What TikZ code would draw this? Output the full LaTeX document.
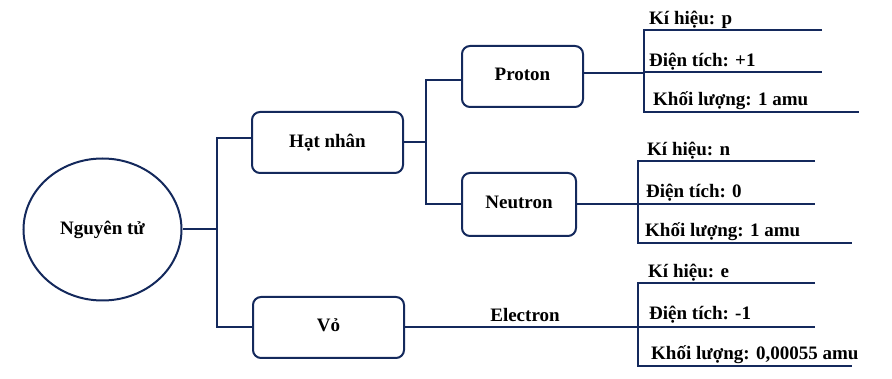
\documentclass[tikz,border=0pt]{standalone}
\usepackage{fontspec}
\setmainfont{Liberation Serif}[BoldFont={Liberation Serif Bold}]
\usetikzlibrary{shapes.geometric}
\definecolor{navy}{HTML}{14295C}
\begin{document}
\begin{tikzpicture}[x=1pt,y=-1pt,
  every node/.style={font=\bfseries\fontsize{19}{22}\selectfont, text=black},
  box/.style={draw=navy, line width=2pt, rounded corners=8pt, inner sep=0pt},
  link/.style={draw=navy, line width=2pt},
  lbl/.style={anchor=west, inner sep=0pt}]
\useasboundingbox (0,0) rectangle (892,379);
% main nodes
\node[ellipse, draw=navy, line width=2pt, minimum width=158pt, minimum height=142pt, inner sep=0pt] (root) at (102.5,229.5) {\raisebox{4pt}{Nguyên tử}};
\node[box, minimum width=151pt, minimum height=61pt] (hn) at (327.5,142.5) {\raisebox{4pt}{Hạt nhân}};
\node[box, minimum width=151pt, minimum height=61pt] (vo) at (328.5,327.5) {\raisebox{4pt}{Vỏ}};
\node[box, minimum width=121pt, minimum height=61pt] (pr) at (522.5,76.5) {\raisebox{4pt}{Proton}};
\node[box, minimum width=114pt, minimum height=63pt] (ne) at (519,204.5) {\raisebox{4pt}{Neutron}};
\node (el) at (525,315) {Electron};
% junctions
\coordinate (j1) at (217,229.5);
\coordinate (j2) at (426,142.5);
\coordinate (jp) at (644,73);
\coordinate (jn) at (638,204.5);
\coordinate (je) at (638,327.5);
% level 1
\draw[link] (root.east) -- (j1);
\draw[link] (j1) |- ([yshift=4.5pt]hn.west);
\draw[link] (j1) |- (vo.west);
% level 2
\draw[link] (hn.east) -- (j2);
\draw[link] (j2) |- ([yshift=-3.5pt]pr.west);
\draw[link] (j2) |- (ne.west);
% leaves: proton
\coordinate (pa) at (822,30);
\coordinate (pb) at (822,72);
\coordinate (pc) at (859,112);
\draw[link] ([yshift=3.5pt]pr.east) -- (jp);
\draw[link] (pa) -- (pa -| jp) -- (jp |- pc) -- (pc);
\draw[link] (jp |- pb) -- (pb);
% leaves: neutron
\coordinate (na) at (815,161);
\coordinate (nb) at (815,204.5);
\coordinate (nc) at (852,243);
\draw[link] (ne.east) -- (jn);
\draw[link] (na) -- (na -| jn) -- (jn |- nc) -- (nc);
\draw[link] (jn) -- (nb);
% leaves: electron
\coordinate (ea) at (815,283);
\coordinate (eb) at (815,327.5);
\coordinate (ec) at (852,366);
\draw[link] (vo.east) -- (je);
\draw[link] (ea) -- (ea -| je) -- (je |- ec) -- (ec);
\draw[link] (je) -- (eb);
% labels
\node[lbl] (p1) at (649,20) {Kí hiệu: p};
\node[lbl] (p2) at (649,62) {Điện tích: +1};
\node[lbl] (p3) at (653,101) {Khối lượng: 1 amu};
\node[lbl] (n1) at (647,151) {Kí hiệu: n};
\node[lbl] (n2) at (646,193) {Điện tích: 0};
\node[lbl] (n3) at (645,232) {Khối lượng: 1 amu};
\node[lbl] (e1) at (648,273) {Kí hiệu: e};
\node[lbl] (e2) at (649,315) {Điện tích: -1};
\node[lbl] (e3) at (651,355) {Khối lượng: 0,00055 amu};
\end{tikzpicture}
\end{document}
